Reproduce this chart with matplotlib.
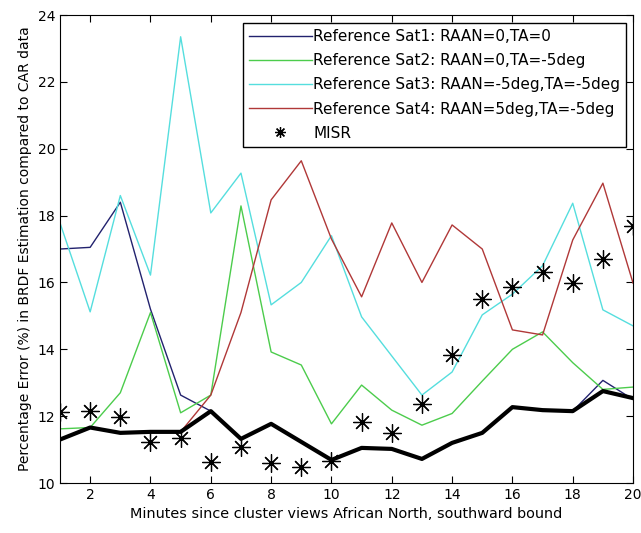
import matplotlib
matplotlib.use('Agg')
import matplotlib.pyplot as plt
import numpy as np

plt.rcParams['font.family'] = ['DejaVu Sans']

minutes = np.arange(1, 21)

# values
sat1 = [17.0, 17.05, 18.4, 15.2, 12.63, 12.15, 11.32, 11.77, 11.23, 10.69,
        11.05, 11.02, 10.72, 11.2, 11.5, 12.27, 12.18, 12.15, 13.07, 12.5]
sat2 = [11.62, 11.66, 12.7, 15.1, 12.1, 12.63, 18.29, 13.92, 13.53, 11.77,
        12.93, 12.18, 11.73, 12.08, 13.05, 14.0, 14.52, 13.6, 12.8, 12.87]
sat3 = [17.78, 15.12, 18.6, 16.22, 23.35, 18.08, 19.27, 15.33, 16.0, 17.4,
        14.97, 13.8, 12.63, 13.32, 15.03, 15.65, 16.5, 18.37, 15.18, 14.7]
sat4 = [11.32, 11.66, 11.5, 11.53, 11.53, 12.63, 15.1, 18.47, 19.64, 17.3,
        15.57, 17.78, 16.0, 17.72, 17.0, 14.58, 14.43, 17.27, 18.97, 15.98]
best = [11.3, 11.66, 11.5, 11.53, 11.53, 12.15, 11.32, 11.77, 11.23, 10.69,
        11.05, 11.02, 10.72, 11.2, 11.5, 12.27, 12.18, 12.15, 12.75, 12.54]
misr = [12.13, 12.15, 11.97, 11.23, 11.35, 10.63, 11.08, 10.6, 10.48, 10.66,
        11.83, 11.5, 12.36, 13.83, 15.5, 15.87, 16.31, 15.98, 16.7, 17.69]

labels = ['Reference Sat1: RAAN=0,TA=0',
          'Reference Sat2: RAAN=0,TA=-5deg',
          'Reference Sat3: RAAN=-5deg,TA=-5deg',
          'Reference Sat4: RAAN=5deg,TA=-5deg',
          'MISR']

fig = plt.figure(figsize=(6.41, 5.33), dpi=100)
ax = fig.add_axes([0.0936, 0.0938, 0.894, 0.878])

ax.plot(minutes, sat1, color='#22226e', lw=1.0, label=labels[0])
ax.plot(minutes, sat2, color='#4ccc4c', lw=1.0, label=labels[1])
ax.plot(minutes, sat3, color='#55dede', lw=1.0, label=labels[2])
ax.plot(minutes, sat4, color='#b03838', lw=1.0, label=labels[3])
ax.plot(minutes, misr, linestyle='none', marker=(8, 2, 0), markersize=13,
        markeredgewidth=0.9, color='black', label=labels[4])
ax.plot(minutes, best, color='black', lw=3.0, label='_nolegend_')

ax.set_xlim(1, 20)
ax.set_ylim(10, 24)
ax.set_xticks(np.arange(2, 21, 2))
ax.set_yticks(np.arange(10, 25, 2))
ax.tick_params(direction='in', top=True, right=True, length=5, labelsize=10)

ax.set_xlabel('Minutes since cluster views African North, southward bound', fontsize=10.4)
ax.set_ylabel('Percentage Error (%) in BRDF Estimation compared to CAR data', fontsize=10)

leg = ax.legend(loc='upper right', bbox_to_anchor=(0.988, 0.983), borderaxespad=0,
                fontsize=11, handlelength=4.1, handletextpad=0.1, labelspacing=0.6,
                borderpad=0.4, fancybox=False, framealpha=1, edgecolor='black',
                markerscale=0.6)
leg.get_frame().set_linewidth(1.0)

fig.savefig('out.png', dpi=100)
